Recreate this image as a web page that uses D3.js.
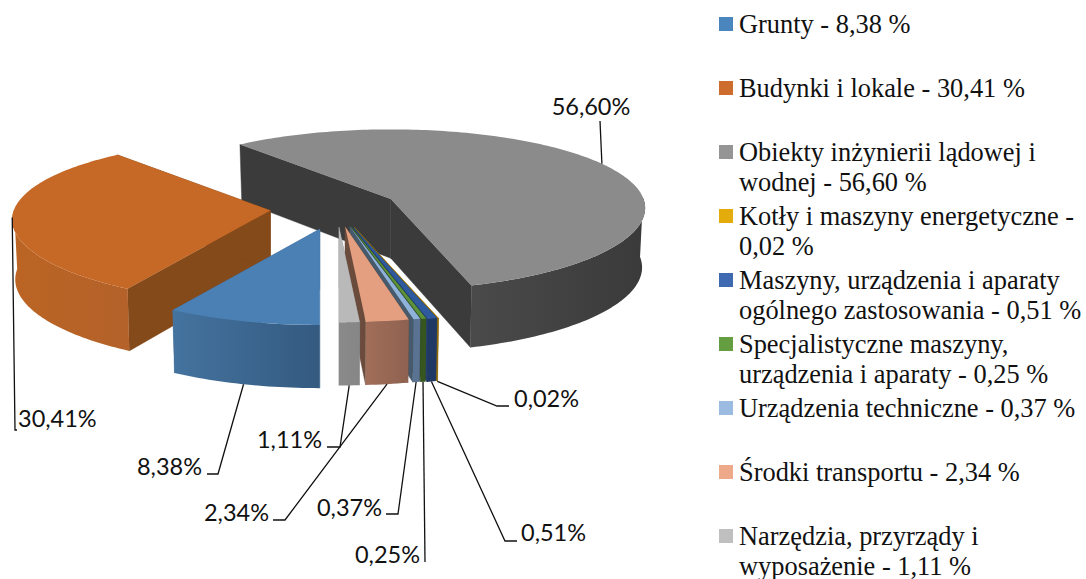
<!DOCTYPE html>
<html><head><meta charset="utf-8">
<script src="https://cdn.jsdelivr.net/npm/d3@7"></script>
<style>html,body{margin:0;padding:0;background:#fff}svg{display:block}</style>
</head><body><div id="c"></div>
<script>
const categories = ["Grunty","Budynki i lokale","Obiekty inżynierii lądowej i wodnej","Kotły i maszyny energetyczne","Maszyny, urządzenia i aparaty ogólnego zastosowania","Specjalistyczne maszyny, urządzenia i aparaty","Urządzenia techniczne","Środki transportu","Narzędzia, przyrządy i wyposażenie"];
const values = [8.38,30.41,56.60,0.02,0.51,0.25,0.37,2.34,1.11];
const legendLines = [["Grunty - 8,38 %"],["Budynki i lokale - 30,41 %"],["Obiekty inżynierii lądowej i","wodnej - 56,60 %"],["Kotły i maszyny energetyczne -","0,02 %"],["Maszyny, urządzenia i aparaty","ogólnego zastosowania - 0,51 %"],["Specjalistyczne maszyny,","urządzenia i aparaty - 0,25 %"],["Urządzenia techniczne - 0,37 %"],["Środki transportu - 2,34 %"],["Narzędzia, przyrządy i","wyposażenie - 1,11 %"]];
const legendColors = ["#4a86bd","#cd6c2d","#959595","#e3ac0c","#3f69b0","#659d41","#9bbbe0","#eea98a","#bfbfbf"];
const topColors = ["#4b80b4","#c66826","#8b8b8b","#d9a30a","#2f5a9e","#5c9339","#8fb2da","#e39f80","#b9b9b9"];
const sideColors = ["#3f6b94","#854a1a","#3b3b3b","#8f6b08","#24406f","#34501f","#465a6c","#6b4b3c","#8a8a8a"];
const rimLeft = ["#44739f","#bb6424","#4a4a4a","#8f6b08","#1f3864","#37561f","#5a7392","#a16e59","#8a8a8a"];
const rimRight = ["#345a80","#b4622a","#3a3a3a","#8f6b08","#1f3864","#37561f","#5a7392","#8e6250","#868686"];
const explode = [0.26,0.262,0.24,0.24,0.235,0.23,0.225,0.225,0.225];
const drawOrder = [2,1,0,3,4,5,6,7,8];
// leader routing: elbow point, end point, anchor of text, rim level of the start point
const leaders = [
 {via:[218,474],end:[207,474],tx:202,ty:475,a:"end",top:false},
 {via:[15,430],end:[17,430],tx:18,ty:427,a:"start",top:true},
 {via:null,end:[600,121],tx:591,ty:115,a:"middle",top:true},
 {via:[497,406],end:[509,406],tx:514,ty:407,a:"start",top:false},
 {via:[505,541],end:[517,541],tx:521,ty:541,a:"start",top:false},
 {via:null,end:[425,562],tx:420,ty:563,a:"end",top:false},
 {via:[398,514],end:[386,514],tx:382,ty:516,a:"end",top:false},
 {via:[285,520],end:[273,520],tx:269,ty:521,a:"end",top:false},
 {via:[340,447],end:[327,447],tx:322,ty:448,a:"end",top:false}
];

const W=1086,H=579,cx=337,cy=208.5,Rx=256,Ry=80,perspX=0.112,perspY=0.132,depth=59.5;
const svg=d3.select("#c").append("svg").attr("width",W).attr("height",H);
const defs=svg.append("defs");
const arcs=d3.pie().sort(null).value(d=>d).startAngle(Math.PI).endAngle(3*Math.PI)(values);
const line=d3.line();
const mid=i=>(arcs[i].startAngle+arcs[i].endAngle)/2;
const apexZ=i=>explode[i]*Math.cos(mid(i));
function apex(i){const e=explode[i];return [cx+255*e*Math.sin(mid(i)),cy-82*e*Math.cos(mid(i))];}
const drop=z=>depth*(1-0.05*z);
function rim(i,t,lift){const a=apex(i),z=Math.cos(t),zt=z+apexZ(i);
  const x=Rx*Math.sin(t)/(1+perspX*zt),y=Ry*z/(1+perspY*zt);
  return lift?[a[0]+x*0.988,a[1]-y+drop(zt)]:[a[0]+x,a[1]-y];}
function samples(i){const s=arcs[i].startAngle,e=arcs[i].endAngle,n=Math.max(2,Math.ceil((e-s)/0.02));
  return d3.range(n+1).map(k=>s+(e-s)*k/n);}
const g=svg.append("g");
drawOrder.forEach(i=>{
  const ts=samples(i),a=apex(i),a2=[a[0],a[1]+drop(apexZ(i))],top=ts.map(t=>rim(i,t,false)),bot=ts.map(t=>rim(i,t,true));
  const front=ts.filter(t=>Math.cos(t)<=0.02),ft=front.map(t=>rim(i,t,false)),fb=front.map(t=>rim(i,t,true));
  const xs=d3.extent(ft,d=>d[0]);
  const gid="rim"+i;
  const lg=defs.append("linearGradient").attr("id",gid).attr("gradientUnits","userSpaceOnUse").attr("x1",xs[0]).attr("x2",xs[1]).attr("y1",0).attr("y2",0);
  lg.append("stop").attr("offset",0).attr("stop-color",rimLeft[i]);
  lg.append("stop").attr("offset",1).attr("stop-color",rimRight[i]);
  [0,top.length-1].forEach(k=>{
    g.append("path").attr("d",line([a,top[k],bot[k],a2])+"Z").attr("fill",sideColors[i]).attr("stroke",sideColors[i]).attr("stroke-width",0.4);
  });
  g.append("path").attr("d",line(ft.concat(fb.slice().reverse()))+"Z").attr("fill",`url(#${gid})`);
  g.append("path").attr("d",line([a].concat(top))+"Z").attr("fill",topColors[i]);
});
const lg2=svg.append("g");
values.forEach((v,i)=>{
  const L=leaders[i],s=rim(i,mid(i),!L.top);
  const pts=[s].concat(L.via?[L.via]:[],[L.end]);
  lg2.append("path").attr("d",line(pts)).attr("fill","none").attr("stroke","#111").attr("stroke-width",1.3);
  lg2.append("text").attr("x",L.tx).attr("y",L.ty).attr("text-anchor",L.a)
    .attr("font-family","Lato").attr("font-size",23.5).attr("fill","#111")
    .text(v.toFixed(2).replace(".",",")+"%");
});
const legendY=d3.scaleLinear().domain([0,1]).range([24,88]);
const legend=svg.append("g");
legendLines.forEach((ls,i)=>{
  const y=legendY(i);
  legend.append("rect").attr("x",719).attr("y",y-7).attr("width",14).attr("height",14).attr("fill",legendColors[i]);
  ls.forEach((t,j)=>legend.append("text").attr("x",739).attr("y",y+8.5+j*30).attr("font-family","Liberation Serif").attr("font-size",26.4).attr("fill","#111").text(t));
});
</script></body></html>
